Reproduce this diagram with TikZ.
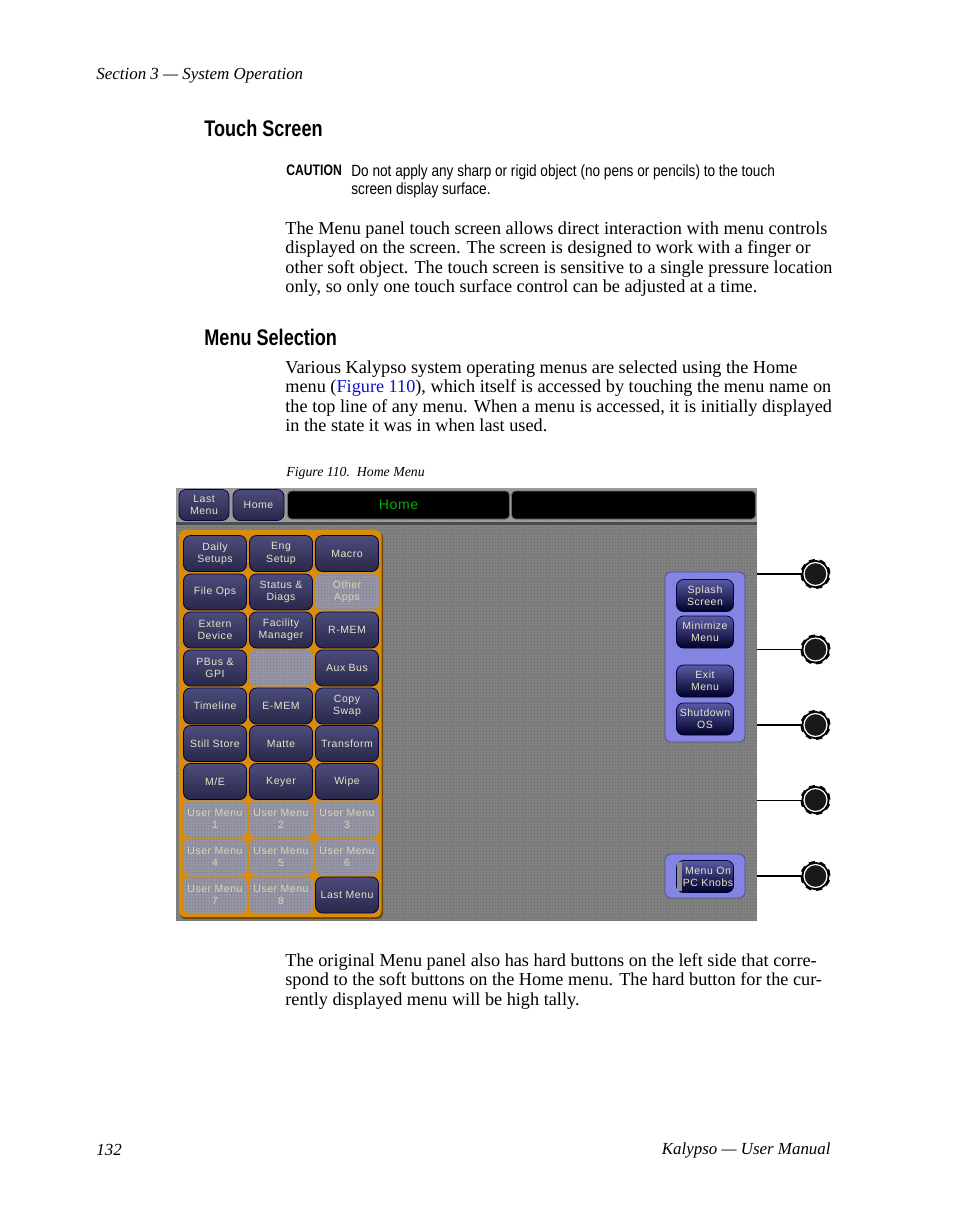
\documentclass[tikz,border=0pt]{standalone}
\usepackage{fontspec}
\setmainfont{Liberation Serif}
\newfontfamily\narrowfont[FakeStretch=0.8]{Liberation Sans}
\newfontfamily\cautionfont[FakeStretch=0.84]{Liberation Sans}
\newfontfamily\keyfont[LetterSpace=5]{Liberation Sans}
\usepackage{tikz}
\usetikzlibrary{positioning}
\usetikzlibrary{patterns}
\pgfdeclarepatternformonly{ditherdots}{\pgfqpoint{-.1pt}{-.1pt}}{\pgfqpoint{.8pt}{.8pt}}{\pgfqpoint{1.5pt}{1.5pt}}{\pgfpathrectangle{\pgfpointorigin}{\pgfqpoint{.7pt}{.7pt}}\pgfusepath{fill}}
\definecolor{screengray}{HTML}{808080}
\definecolor{screendots}{HTML}{696969}
\definecolor{bargray}{HTML}{9A9A9A}
\definecolor{panelorange}{HTML}{D98C0A}
\definecolor{panelblue}{HTML}{8484E2}
\definecolor{keytop}{HTML}{4C4C7C}
\definecolor{keybottom}{HTML}{28284A}
\definecolor{keytext}{HTML}{E6E6C8}
\definecolor{dimkey}{HTML}{9494A4}
\definecolor{dimdots}{HTML}{7C7C88}
\definecolor{dimtext}{HTML}{D8D8B4}
\definecolor{linkblue}{HTML}{1010D0}
\tikzset{bodytext/.style = {anchor = north west, inner sep = 0, align = left, font = \fontsize{9.12}{9.75}\selectfont}}
\tikzset{headtext/.style = {anchor = west, inner sep = 0, font = \narrowfont\bfseries\fontsize{11.3}{12}\selectfont}}
\tikzset{cautiontext/.style = {anchor = north west, inner sep = 0, align = left, font = \cautionfont\fontsize{8.1}{9}\selectfont}}
\tikzset{pagetext/.style = {inner sep = 0, font = \itshape\fontsize{8.46}{10}\selectfont}}
\tikzset{softkey/.style = {draw = black!75!blue, rounded corners = 3.5, top color = keytop, bottom color = keybottom, text = keytext, minimum width = 31.5, minimum height = 18, inner sep = 0, align = center, font = \keyfont\fontsize{5.25}{6.1}\selectfont}}
\tikzset{dimsoftkey/.style = {softkey, draw = dimkey, top color = dimkey, bottom color = dimkey, text = dimtext, postaction = {pattern = ditherdots, pattern color = dimdots}}}
\tikzset{sidekey/.style = {softkey, minimum width = 28.5, minimum height = 16, top color = black!55!blue!65!white, bottom color = black!85!blue}}
\tikzset{knob/.style = {circle, draw = white, fill = black!90, line width = .6, minimum size = 11.5, inner sep = 0, preaction = {draw = black, line width = 3.6, dash pattern = on 2.6 off 1.9}, preaction = {draw = black, line width = 2.5}}}
\tikzset{tap/.style = {draw = black, line width = .6}}
\begin{document}
\begin{tikzpicture}[x = .5pt, y = -.5pt]
      \useasboundingbox (0, 0) rectangle (954, 1227);
      \node [pagetext, anchor = west] (header) at (96, 75.5) {Section 3 --- System Operation};
      \node [headtext] (touchhead) at (204, 128) {Touch Screen};
      \node [anchor = west, inner sep = 0, font = \narrowfont\bfseries\fontsize{7.6}{9}\selectfont] (cautionlabel) at (286, 170) {CAUTION};
      \node [cautiontext] (caution) at (351, 164.5) {Do not apply any sharp or rigid object (no pens or pencils) to the touch\\screen display surface.};
      \node [bodytext] (touchbody) at (285, 221) {The Menu panel touch screen allows direct interaction with menu controls\\displayed on the screen. The screen is designed to work with a finger or\\other soft object. The touch screen is sensitive to a single pressure location\\only, so only one touch surface control can be adjusted at a time.};
      \node [headtext] (menuhead) at (204, 337) {Menu Selection};
      \node [bodytext] (menubody) at (285, 360) {Various Kalypso system operating menus are selected using the Home\\menu ({\color{linkblue}Figure 110}), which itself is accessed by touching the menu name on\\the top line of any menu. When a menu is accessed, it is initially displayed\\in the state it was in when last used.};
      \node [pagetext, anchor = west, font = \itshape\fontsize{6.9}{8}\selectfont] (caption) at (286, 473) {Figure 110.\ \ Home Menu};
      % screen
      \fill [screengray] (176, 488) rectangle (757, 921);
      \fill [pattern = ditherdots, pattern color = screendots] (176, 488) rectangle (757, 921);
      \fill [bargray] (176, 488) rectangle (757, 522);
      \fill [black!70] (176, 522) rectangle (757, 525);
      \node [softkey, minimum width = 25, minimum height = 15.5] (lastmenutop) at (204, 505) {Last\\Menu};
      \node [softkey, minimum width = 25.5, minimum height = 15.5] (hometop) at (258.5, 505) {Home};
      \node [draw = black!60, fill = black, rounded corners = 2, minimum width = 111, minimum height = 14, inner sep = 0, text = green!70!black, font = \keyfont\fontsize{7}{8}\selectfont] (titlebox) at (398.5, 505) {Home};
      \node [draw = black!60, fill = black, rounded corners = 2, minimum width = 122, minimum height = 14, inner sep = 0] (emptybox) at (633.5, 505) {};
      % menu panel
      \fill [black!50!panelorange, rounded corners = 3] (180, 532) rectangle (383, 919);
      \fill [panelorange, rounded corners = 3] (179, 530) rectangle (381.5, 917);
      \node [softkey] (dailysetups) at (215, 553.5) {Daily\\Setups};
      \node [softkey] (engsetup) at (281, 553.5) {Eng\\Setup};
      \node [softkey] (macro) at (347, 553.5) {Macro};
      \node [softkey] (fileops) at (215, 592) {File Ops};
      \node [softkey] (statusdiags) at (281, 592) {Status \&\\Diags};
      \node [dimsoftkey] (otherapps) at (347, 592) {Other\\Apps};
      \node [softkey] (externdevice) at (215, 630) {Extern\\Device};
      \node [softkey] (facilitymanager) at (281, 630) {Facility\\Manager};
      \node [softkey] (rmem) at (347, 630) {R-MEM};
      \node [softkey] (pbusgpi) at (215, 668) {PBus \&\\GPI};
      \node [dimsoftkey] (blankkey) at (281, 668) {};
      \node [softkey] (auxbus) at (347, 668) {Aux Bus};
      \node [softkey] (timeline) at (215, 706) {Timeline};
      \node [softkey] (ememkey) at (281, 706) {E-MEM};
      \node [softkey] (copyswap) at (347, 706) {Copy\\Swap};
      \node [softkey] (stillstore) at (215, 743.5) {Still Store};
      \node [softkey] (matte) at (281, 743.5) {Matte};
      \node [softkey] (transform) at (347, 743.5) {Transform};
      \node [softkey] (mekey) at (215, 781.5) {M/E};
      \node [softkey] (keyer) at (281, 781.5) {Keyer};
      \node [softkey] (wipe) at (347, 781.5) {Wipe};
      \node [dimsoftkey] (user1) at (215, 819) {User Menu\\1};
      \node [dimsoftkey] (user2) at (281, 819) {User Menu\\2};
      \node [dimsoftkey] (user3) at (347, 819) {User Menu\\3};
      \node [dimsoftkey] (user4) at (215, 857) {User Menu\\4};
      \node [dimsoftkey] (user5) at (281, 857) {User Menu\\5};
      \node [dimsoftkey] (user6) at (347, 857) {User Menu\\6};
      \node [dimsoftkey] (user7) at (215, 895) {User Menu\\7};
      \node [dimsoftkey] (user8) at (281, 895) {User Menu\\8};
      \node [softkey] (lastmenu) at (347, 895) {Last Menu};
      % side panels
      \draw [panelblue!60!black, fill = panelblue, rounded corners = 3] (665, 572) rectangle (745, 742);
      \draw [panelblue!60!black, fill = panelblue, rounded corners = 3] (665, 854) rectangle (745, 898);
      \node [sidekey] (splash) at (705, 595.5) {Splash\\Screen};
      \node [sidekey] (minimize) at (705, 632) {Minimize\\Menu};
      \node [sidekey] (exitmenu) at (705, 681) {Exit\\Menu};
      \node [sidekey] (shutdown) at (705, 719) {Shutdown\\OS};
      \node [sidekey] (pcknobs) at (705, 876.5) {\hspace*{3pt}Menu On\\\hspace*{3pt}PC Knobs};
      \fill [black!45] (677, 862) rectangle (682, 891);
      % knobs
      \node [knob] (knoba) at (815.5, 574) {};
      \node [knob] (knobb) at (815.5, 649.5) {};
      \node [knob] (knobc) at (815.5, 725) {};
      \node [knob] (knobd) at (815.5, 800) {};
      \node [knob] (knobe) at (815.5, 876) {};
      \coordinate (tapa) at (757, 574);
      \coordinate (tapb) at (757, 649.5);
      \coordinate (tapc) at (757, 725);
      \coordinate (tapd) at (757, 800);
      \coordinate (tape) at (757, 876);
      \draw [tap] (tapa) -- (knoba);
      \draw [tap, line width = .4] (tapb) -- (knobb);
      \draw [tap] (tapc) -- (knobc);
      \draw [tap, line width = .4] (tapd) -- (knobd);
      \draw [tap] (tape) -- (knobe);
      % page text below the screen
      \node [bodytext] (closing) at (285, 953) {The original Menu panel also has hard buttons on the left side that corre-\\spond to the soft buttons on the Home menu. The hard button for the cur-\\rently displayed menu will be high tally.};
      \node [pagetext, anchor = west] (pagenumber) at (96, 1150) {132};
      \node [pagetext, anchor = east] (footer) at (831, 1150) {Kalypso --- User Manual};
    \end{tikzpicture}
\end{document}
